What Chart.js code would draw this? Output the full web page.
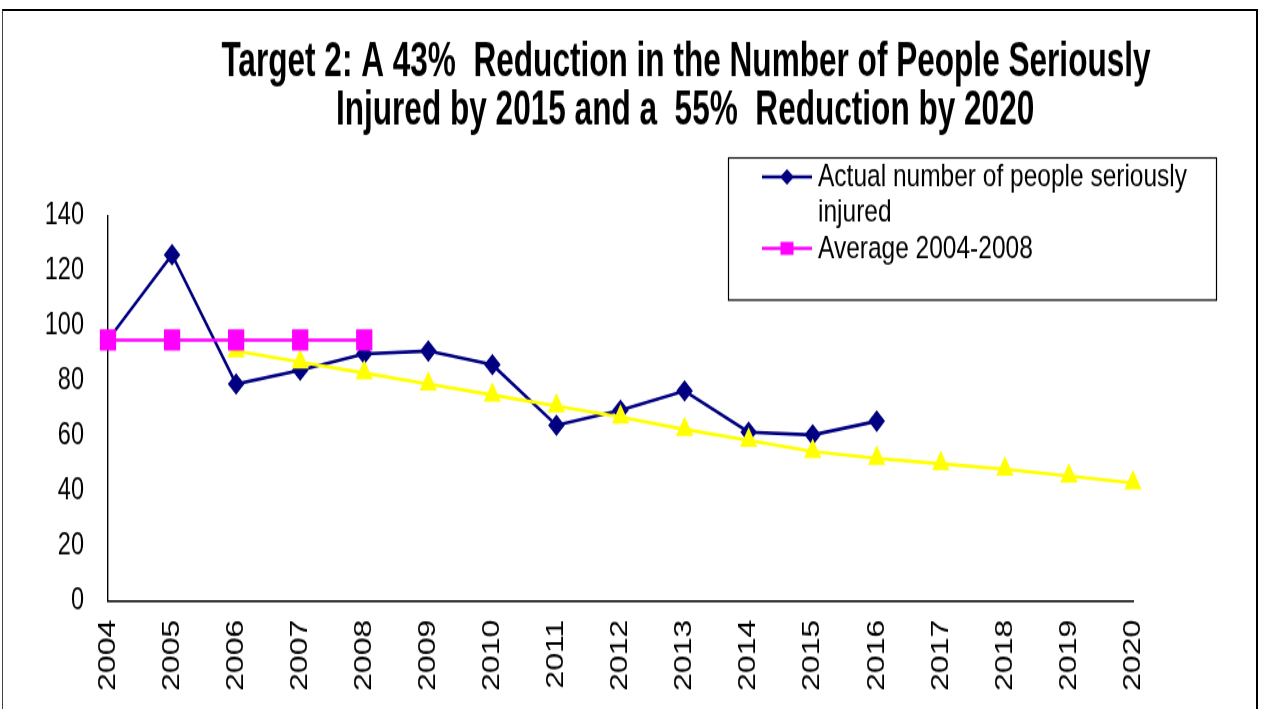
<!DOCTYPE html>
<html>
<head>
<meta charset="utf-8">
<script src="https://cdn.jsdelivr.net/npm/chart.js@4.4.1/dist/chart.umd.min.js"></script>
<style>
  html, body { margin: 0; padding: 0; background: #fff; overflow: hidden; }
  #page { position: relative; width: 1264px; height: 709px; overflow: hidden; }
  #frame { position: absolute; left: 2px; top: 9px; width: 1253px; height: 760px;
           border-top: 2px solid #000; border-left: 1px solid #444; border-right: 2px solid #000; }
  #wrap { position: absolute; left: 0; top: 0; width: 1264px; height: 541px;
          transform: scaleY(1.3105); transform-origin: 0 0; }
</style>
</head>
<body>
<div id="page">
  <div id="wrap"><canvas id="chart" width="1264" height="541"></canvas></div>
  <div id="frame"></div>
</div>
<script>
// ----------------- DATA -----------------
const years = ["2004", "2005", "2006", "2007", "2008", "2009", "2010", "2011",
               "2012", "2013", "2014", "2015", "2016", "2017", "2018", "2019", "2020"];
const actualInjured = [95, 126, 79, 84, 90, 91, 86, 64, 69.5, 76.5, 61.5, 60.5, 65.5,
                       null, null, null, null];
const average0408 = [95, 95, 95, 95, 95, null, null, null, null, null, null, null, null,
                     null, null, null, null];
const targetPath = [null, null, 91, 87, 83, 79, 75, 71, 67, 62.5, 58.5, 54.5, 52,
                    50, 48, 45.5, 43];
const yTicks = [0, 20, 40, 60, 80, 100, 120, 140];

const titleLines = [
  "Target 2: A 43%  Reduction in the Number of People Seriously",
  "Injured by 2015 and a  55%  Reduction by 2020"
];
const legendLabels = ["Actual number of people seriously", "injured", "Average 2004-2008"];

const FONT = "'Liberation Sans', Arial, sans-serif";
const NAVY = "#000080";
const MAGENTA = "#FF00FF";
const YELLOW = "#FFFF00";

// ----------------- TITLE + LEGEND -----------------
const decorPlugin = {
  id: "decor",
  afterDraw(chart) {
    const ctx = chart.ctx;
    ctx.save();
    ctx.fillStyle = "#000";
    ctx.textAlign = "center";
    ctx.textBaseline = "middle";
    ctx.font = "bold 36px " + FONT;
    // narrow face: squeeze the title horizontally
    ctx.save();
    ctx.translate(686, 0);
    ctx.scale(0.877, 1);
    ctx.fillText(titleLines[0], 0, 48.5);
    ctx.fillText(titleLines[1], -1, 85);
    ctx.restore();

    // legend box
    ctx.strokeStyle = "#000";
    ctx.lineWidth = 1.2;
    ctx.strokeRect(728.5, 120.5, 488, 108.5);

    // navy item
    ctx.strokeStyle = NAVY;
    ctx.lineWidth = 2.5;
    ctx.beginPath();
    ctx.moveTo(762, 135);
    ctx.lineTo(812, 135);
    ctx.stroke();
    ctx.fillStyle = NAVY;
    ctx.beginPath();
    ctx.moveTo(787, 129);
    ctx.lineTo(794, 135);
    ctx.lineTo(787, 141);
    ctx.lineTo(780, 135);
    ctx.closePath();
    ctx.fill();

    // magenta item
    ctx.strokeStyle = MAGENTA;
    ctx.beginPath();
    ctx.moveTo(762, 189.5);
    ctx.lineTo(812, 189.5);
    ctx.stroke();
    ctx.fillStyle = MAGENTA;
    ctx.fillRect(780.5, 184.5, 13, 10);

    ctx.fillStyle = "#000";
    ctx.textAlign = "left";
    ctx.font = "24.5px " + FONT;
    ctx.fillText(legendLabels[0], 818, 135.5);
    ctx.fillText(legendLabels[1], 818, 162);
    ctx.fillText(legendLabels[2], 818, 190);
    ctx.restore();
  }
};

// ----------------- CHART -----------------
const ctx = document.getElementById("chart").getContext("2d");
new Chart(ctx, {
  type: "line",
  data: {
    labels: years,
    datasets: [
      {
        label: "Actual number of people seriously injured",
        data: actualInjured,
        borderColor: NAVY,
        backgroundColor: NAVY,
        borderWidth: 2.6,
        pointStyle: "rectRot",
        pointRadius: 8.3,
        pointBorderWidth: 0,
        order: 3
      },
      {
        label: "Target",
        data: targetPath,
        borderColor: YELLOW,
        backgroundColor: YELLOW,
        borderWidth: 2.6,
        pointStyle: "triangle",
        pointRadius: 10,
        pointBorderWidth: 0,
        order: 2
      },
      {
        label: "Average 2004-2008",
        data: average0408,
        borderColor: MAGENTA,
        backgroundColor: MAGENTA,
        borderWidth: 2.4,
        pointStyle: "rect",
        pointRadius: 11.5,
        pointBorderWidth: 0,
        order: 1
      }
    ]
  },
  options: {
    responsive: false,
    animation: false,
    devicePixelRatio: 1,
    layout: { padding: { top: 165, right: 131, left: 0, bottom: 0 } },
    plugins: {
      legend: { display: false },
      title: { display: false },
      tooltip: { enabled: false }
    },
    scales: {
      x: {
        grid: { display: false, drawTicks: false },
        border: { display: true, color: "#000", width: 1.6 },
        ticks: {
          color: "#000",
          font: { family: FONT, size: 24.5 },
          minRotation: 90,
          maxRotation: 90,
          autoSkip: false,
          padding: 14
        },
        afterFit(scale) { scale.height = 82.2; }
      },
      y: {
        min: 0,
        max: 140,
        grid: { display: false, drawTicks: false },
        border: { display: true, color: "#000", width: 1.4 },
        afterBuildTicks(scale) { scale.ticks = yTicks.map(v => ({ value: v })); },
        ticks: {
          color: "#000",
          font: { family: FONT, size: 23.5 },
          padding: 24
        },
        afterFit(scale) { scale.width = 108; }
      }
    }
  },
  plugins: [decorPlugin]
});
</script>
</body>
</html>
